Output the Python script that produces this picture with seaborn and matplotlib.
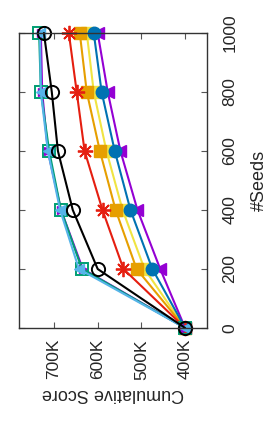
import matplotlib
matplotlib.use("Agg")
import matplotlib.pyplot as plt
import seaborn as sns
import pandas as pd

sns.set_style("white")
plt.rcParams['font.family'] = ['Liberation Sans', 'DejaVu Sans']

seeds = [0, 200, 400, 600, 800, 1000]
purple_a = [400000, 634000, 684000, 714000, 727000, 730000]
teal = [400000, 636000, 684000, 711000, 730000, 734000]
lightblue = [400000, 643000, 686000, 714000, 730000, 732000]
black = [400000, 600000, 657000, 691000, 705000, 723000]
red = [400000, 541000, 589000, 630000, 648000, 666000]
orange = [400000, 511000, 559000, 595000, 625000, 641000]
yellow = [400000, 493000, 543000, 580000, 609000, 625000]
blue = [400000, 475000, 525000, 561000, 591000, 609000]
purple_b = [400000, 457000, 509000, 548000, 577000, 600000]

score_ticks = [400000, 500000, 600000, 700000]
score_labels = ["400K", "500K", "600K", "700K"]
seed_ticks = [0, 200, 400, 600, 800, 1000]

# (values, color, marker, size, filled, edge width)
series = [
    (yellow, "#F0E442", "s", 8, True, 1.0),
    (orange, "#E69F00", "s", 8.5, True, 1.0),
    (purple_b, "#9400D3", "<", 9, True, 1.0),
    (blue, "#0072B2", "o", 9, True, 1.0),
    (red, "#E51E10", (8, 2, 0), 11, True, 1.3),
    (purple_a, "#9400D3", ">", 6, True, 1.0),
    (teal, "#009E73", "s", 8.5, False, 1.4),
    (lightblue, "#56B4E9", "<", 7, True, 1.0),
    (black, "#000000", "o", 9.5, False, 1.4),
]

fig = plt.figure(figsize=(2.69, 4.23), dpi=100)
ax = fig.add_axes([19 / 269, (423 - 328) / 423, 188 / 269, 295 / 423])

for vals, col, mk, ms, filled, mew in series:
    df = pd.DataFrame({"score": vals, "seeds": seeds})
    sns.lineplot(data=df, x="score", y="seeds", orient="y", ax=ax,
                 color=col, marker=mk, markersize=ms, linewidth=1.5,
                 markeredgecolor=col,
                 markerfacecolor=(col if filled else "none"),
                 markeredgewidth=mew, clip_on=False)

ax.set_xlim(780000, 350000)
ax.set_ylim(0, 1000)
ax.set_xticks(score_ticks)
ax.set_xticklabels(score_labels, rotation=90)
ax.set_yticks(seed_ticks)
ax.set_yticklabels([str(s) for s in seed_ticks], rotation=90, va="center")
ax.yaxis.tick_right()
ax.yaxis.set_label_position("right")
ax.tick_params(axis="both", direction="in", length=4, width=0.8, color="#555555",
               labelsize=12.5, top=True, bottom=True, left=True, right=True)
ax.tick_params(axis="x", pad=8)
ax.tick_params(axis="y", pad=11)
ax.set_xlabel("Cumulative Score", rotation=180, fontsize=13, labelpad=4)
ax.set_ylabel("#Seeds", rotation=90, fontsize=13, labelpad=10)
for sp in ax.spines.values():
    sp.set_color("#333333")
    sp.set_linewidth(1.0)
ax.grid(False)

fig.savefig("out.png", dpi=100)
